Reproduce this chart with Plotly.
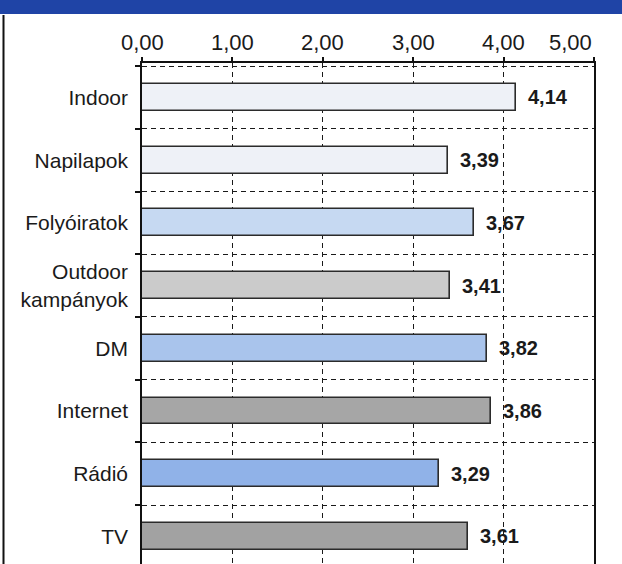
import plotly.graph_objects as go

# Media channels and their average scores
categories = ["Indoor", "Napilapok", "Folyóiratok", "Outdoor<br>kampányok",
              "DM", "Internet", "Rádió", "TV"]
values = [4.14, 3.39, 3.67, 3.41, 3.82, 3.86, 3.29, 3.61]
bar_colors = ["#eef1f7", "#eef1f7", "#c6d9f2", "#cbcbcb",
              "#a9c4ec", "#a6a6a6", "#90b2e8", "#a2a2a2"]
tick_values = [0, 1, 2, 3, 4, 5]
tick_labels = ["0,00", "1,00", "2,00", "3,00", "4,00", "5,00"]

W, H = 622, 564
ML, MR, MT, MB = 142, 28, 63, 0
PW, PH = W - ML - MR, H - MT - MB


def px_x(p):
    return (p - ML) / PW


def px_y(p):
    return 1 - (p - MT) / PH


FONT = "Liberation Sans, Arial, sans-serif"

fig = go.Figure(go.Bar(
    x=values, y=categories, orientation="h",
    width=0.43,
    marker=dict(color=bar_colors, line=dict(color="#2b2b2b", width=1.6)),
    hoverinfo="skip",
))

# value labels next to each bar
for c, v in zip(categories, values):
    fig.add_annotation(
        x=v, y=c, xref="x", yref="y", text=f"{v:.2f}".replace(".", ","),
        showarrow=False, xanchor="left", xshift=10,
        font=dict(family=FONT, size=20, color="#1a1a1a", weight="bold"),
    )

# axis number labels along the top
for i, (tv, tl) in enumerate(zip(tick_values, tick_labels)):
    last = i == len(tick_values) - 1
    fig.add_annotation(
        x=tv, y=px_y(42), xref="x", yref="paper", text=tl,
        showarrow=False, xanchor="right" if last else "center",
        yanchor="middle",
        font=dict(family=FONT, size=22, color="#1a1a1a"),
    )

# header band and left frame rule
fig.add_shape(type="rect", xref="paper", yref="paper",
              x0=px_x(0), x1=px_x(W), y0=px_y(14), y1=px_y(0),
              fillcolor="#1f44a6", line=dict(width=0), layer="above")
fig.add_shape(type="line", xref="paper", yref="paper",
              x0=px_x(3.5), x1=px_x(3.5), y0=px_y(15), y1=px_y(H),
              line=dict(color="#111111", width=2))

fig.update_xaxes(
    range=[0, 5], side="top", tickvals=tick_values, showticklabels=False,
    ticks="outside", ticklen=4, tickcolor="#111111", tickwidth=1.5,
    showline=True, linecolor="#111111", linewidth=1.6,
    showgrid=True, gridcolor="#1a1a1a", gridwidth=1.3, griddash="5px,4px",
    zeroline=False, fixedrange=True,
)
fig.update_yaxes(
    type="category", categoryorder="array", categoryarray=categories,
    range=[7.44, -0.55], tickson="boundaries",
    ticks="outside", ticklen=5, tickcolor="#111111", tickwidth=1.5,
    ticklabelstandoff=8,
    showline=True, mirror=True, linecolor="#111111", linewidth=1.6,
    showgrid=True, gridcolor="#1a1a1a", gridwidth=1.3, griddash="5px,4px",
    tickfont=dict(family=FONT, size=21, color="#1a1a1a"),
    fixedrange=True,
)

fig.update_layout(
    width=W, height=H,
    margin=dict(l=ML, r=MR, t=MT, b=MB, pad=0),
    paper_bgcolor="white", plot_bgcolor="white",
    showlegend=False, bargap=0,
)

fig.write_html("out.html", config={"displayModeBar": False})
